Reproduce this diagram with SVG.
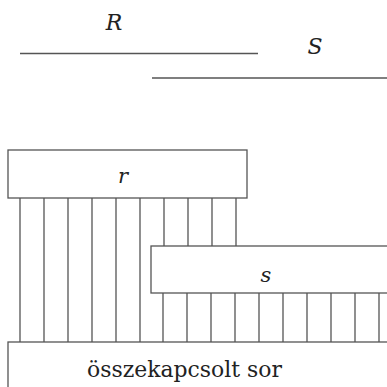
<svg xmlns="http://www.w3.org/2000/svg" width="387" height="387" viewBox="0 0 387 387">
<style>
.ln{stroke:#555;stroke-width:1.3;fill:none}
.bx{stroke:#555;stroke-width:1.3;fill:#fff}
.t{fill:#222;font-family:'DejaVu Serif','Liberation Serif',serif}
.it{font-style:italic}
</style>
<rect width="387" height="387" fill="#fff"/>
<g id="relR">
<text class="t it" x="114" y="30" font-size="22" text-anchor="middle">R</text>
<line class="ln" x1="20" y1="53.5" x2="258" y2="53.5"/>
</g>
<g id="relS">
<text class="t it" x="315" y="54" font-size="22" text-anchor="middle">S</text>
<line class="ln" x1="152" y1="78" x2="387" y2="78"/>
</g>
<g id="connectors">
<path class="ln" d="M20,198V342M44,198V342M68,198V342M92,198V342M116,198V342M140,198V342M164,198V246M188,198V246M212,198V246M236,198V246"/>
<path class="ln" d="M163,293V342M187,293V342M211,293V342M235,293V342M259,293V342M283,293V342M307,293V342M331,293V342M355,293V342M379,293V342"/>
</g>
<g id="r">
<rect class="bx" x="8" y="150" width="239" height="48"/>
<text class="t it" x="123" y="183" font-size="21" text-anchor="middle">r</text>
</g>
<g id="s">
<rect class="bx" x="151" y="246" width="250" height="47"/>
<text class="t it" x="266" y="282" font-size="21" text-anchor="middle">s</text>
</g>
<g id="joined">
<rect class="bx" x="8" y="342" width="400" height="60"/>
<text class="t" x="87" y="377" font-size="22" textLength="195" lengthAdjust="spacingAndGlyphs">összekapcsolt sor</text>
</g>
</svg>
